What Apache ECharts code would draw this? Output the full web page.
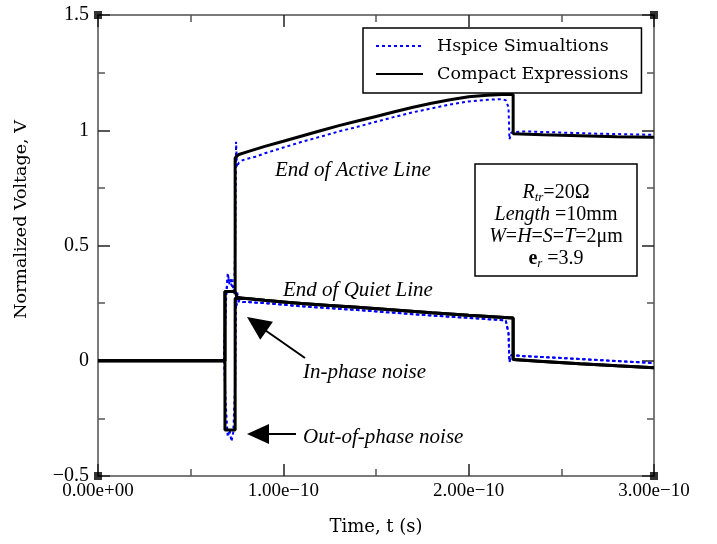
<!DOCTYPE html>
<html><head><meta charset="utf-8">
<script src="https://cdn.jsdelivr.net/npm/echarts@6/dist/echarts.min.js"></script>
<style>html,body{margin:0;padding:0;background:#fff}#c{width:717px;height:544px}</style>
</head><body><div id="c"></div>
<script>
// time in picoseconds (1e-12 s), voltage normalized
const xTickValues = [0, 100, 200, 300];
const xTickLabels = ['0.00e+00', '1.00e\u221210', '2.00e\u221210', '3.00e\u221210'];
const yTickValues = [-0.5, 0, 0.5, 1, 1.5];
const yTickLabels = ['\u22120.5', '0', '0.5', '1', '1.5'];

// Compact Expressions (black)
const compactActive = [[0,0],[68.5,0],[68.5,0.3],[74,0.3],[74,0.88],[76,0.895],[80,0.905],[90,0.93],[100,0.952],[110,0.975],[120,0.998],[130,1.02],[140,1.04],[150,1.06],[160,1.08],[170,1.1],[180,1.117],[190,1.132],[200,1.145],[210,1.152],[218,1.155],[224,1.155],[224,0.985],[240,0.98],[260,0.976],[280,0.972],[300,0.97]];
const compactQuietInPhase = [[0,0],[68.5,0],[68.5,0.3],[74,0.3],[75,0.275],[80,0.27],[90,0.262],[100,0.255],[110,0.248],[125,0.24],[140,0.232],[160,0.22],[180,0.208],[200,0.197],[215,0.19],[224,0.185],[224,0.005],[240,-0.003],[260,-0.013],[280,-0.022],[300,-0.03]];
const compactQuietOutPhase = [[0,0],[68.5,0],[68.5,-0.3],[74,-0.3],[74,0.27],[75,0.275],[80,0.27],[90,0.262],[100,0.255],[110,0.248],[125,0.24],[140,0.232],[160,0.22],[180,0.208],[200,0.197],[215,0.19],[224,0.185],[224,0.005],[240,-0.003],[260,-0.013],[280,-0.022],[300,-0.03]];

// Hspice Simulations (blue dotted)
const hspiceActive = [[0,0],[68,0],[69,0.28],[70,0.36],[72,0.33],[73.5,0.3],[74,0.5],[74.5,0.95],[75,0.84],[76,0.86],[78,0.87],[80,0.875],[85,0.885],[90,0.9],[100,0.925],[110,0.95],[120,0.972],[130,0.995],[140,1.015],[150,1.037],[160,1.058],[170,1.078],[180,1.095],[190,1.112],[200,1.125],[210,1.132],[218,1.135],[220,1.13],[221.5,1.1],[222,0.96],[223,0.99],[230,0.995],[250,0.99],[270,0.985],[300,0.98]];
const hspiceQuietInPhase = [[0,0],[68,0],[69,0.25],[70,0.38],[71,0.33],[72,0.36],[73,0.31],[74,0.28],[75,0.24],[76,0.26],[78,0.255],[80,0.255],[90,0.25],[100,0.243],[110,0.236],[125,0.228],[140,0.22],[160,0.208],[180,0.196],[200,0.186],[215,0.178],[220,0.175],[221.5,0.12],[222,-0.005],[223,0.025],[230,0.02],[250,0.012],[270,0.003],[300,-0.01]];
const hspiceQuietOutPhase = [[0,0],[68,0],[69,-0.2],[70,-0.33],[71,-0.3],[72,-0.35],[73,-0.31],[74,-0.1],[74.5,0.25],[75,0.3],[76,0.26],[78,0.255],[80,0.255],[90,0.25],[100,0.243],[110,0.236],[125,0.228],[140,0.22],[160,0.208],[180,0.196],[200,0.186],[215,0.178],[220,0.175],[221.5,0.12],[222,-0.005],[223,0.025],[230,0.02],[250,0.012],[270,0.003],[300,-0.01]];

const cornerPoints = [[0,-0.5],[0,1.5],[300,-0.5],[300,1.5]];

const HSPICE = 'Hspice Simualtions';
const COMPACT = 'Compact Expressions';

const chart = echarts.init(document.getElementById('c'));

function xLabel(v){ const i = xTickValues.indexOf(v); return i >= 0 ? xTickLabels[i] : ''; }
function yLabel(v){ const i = yTickValues.findIndex(t => Math.abs(t - v) < 1e-9); return i >= 0 ? yTickLabels[i] : ''; }

const axisLineStyle = { color: '#7a7a7a', width: 2 };
const tickStyle = { show: true, inside: true, length: 12, lineStyle: { color: '#222', width: 1.5 } };
const minorStyle = { show: true, splitNumber: 2, length: 7, lineStyle: { color: '#555', width: 1.5 } };

function blue(data){ return { name: HSPICE, type: 'line', data, symbol: 'none', showSymbol: false, z: 2,
  lineStyle: { color: '#0000ff', width: 2, type: [3, 3] }, itemStyle: { color: '#0000ff' }, animation: false }; }
function black(data){ return { name: COMPACT, type: 'line', data, symbol: 'none', showSymbol: false, z: 3,
  lineStyle: { color: '#000', width: 3 }, itemStyle: { color: '#000' }, animation: false }; }

// arrow helper (pixel annotation)
function arrowHead(tip, toward, len, half){
  const dx = toward[0]-tip[0], dy = toward[1]-tip[1];
  const L = Math.hypot(dx, dy), ux = dx/L, uy = dy/L;
  const bx = tip[0]+ux*len, by = tip[1]+uy*len;
  return [tip, [bx - uy*half, by + ux*half], [bx + uy*half, by - ux*half]];
}

const annoFont = { fontFamily: 'Liberation Serif', fontStyle: 'italic', fontSize: 21, fill: '#000' };

chart.setOption({
  animation: false,
  backgroundColor: '#fff',
  grid: { left: 98, right: 63, top: 15, bottom: 68, containLabel: false },
  legend: {
    data: [HSPICE, COMPACT], orient: 'vertical', left: 363, top: 28,
    itemWidth: 47, itemHeight: 14, itemGap: 10, selectedMode: false,
    itemStyle: { opacity: 0 },
    backgroundColor: '#fff', borderColor: '#000', borderWidth: 1.5, borderRadius: 0,
    padding: [9, 13, 10, 12],
    textStyle: { fontFamily: 'DejaVu Serif', fontSize: 17.5, color: '#000', padding: [0, 0, 0, 9] }
  },
  xAxis: [{
    type: 'value', min: 0, max: 300, interval: 100, position: 'bottom',
    name: 'Time, t (s)', nameLocation: 'middle', nameGap: 42,
    nameTextStyle: { fontFamily: 'DejaVu Serif', fontSize: 18, color: '#000' },
    axisLine: { show: true, onZero: false, lineStyle: axisLineStyle },
    axisTick: tickStyle, minorTick: minorStyle, splitLine: { show: false },
    axisLabel: { formatter: xLabel, fontFamily: 'Liberation Serif', fontSize: 19, color: '#000', margin: 6, showMinLabel: true, showMaxLabel: true }
  }, {
    type: 'value', min: 0, max: 300, interval: 100, position: 'top',
    axisLine: { show: true, onZero: false, lineStyle: axisLineStyle },
    axisTick: tickStyle, minorTick: minorStyle, splitLine: { show: false }, axisLabel: { show: false }
  }],
  yAxis: [{
    type: 'value', min: -0.5, max: 1.5, interval: 0.5, position: 'left',
    name: 'Normalized Voltage, V', nameLocation: 'middle', nameGap: 68,
    nameTextStyle: { fontFamily: 'DejaVu Serif', fontSize: 17.5, color: '#000', padding: [0, 0, 0, 52] },
    axisLine: { show: true, onZero: false, lineStyle: axisLineStyle },
    axisTick: tickStyle, minorTick: minorStyle, splitLine: { show: false },
    axisLabel: { formatter: yLabel, fontFamily: 'Liberation Serif', fontSize: 20, color: '#000', margin: 9 }
  }, {
    type: 'value', min: -0.5, max: 1.5, interval: 0.5, position: 'right',
    axisLine: { show: true, onZero: false, lineStyle: axisLineStyle },
    axisTick: tickStyle, minorTick: minorStyle, splitLine: { show: false }, axisLabel: { show: false }
  }],
  series: [
    blue(hspiceActive), blue(hspiceQuietInPhase), blue(hspiceQuietOutPhase),
    black(compactActive), black(compactQuietInPhase), black(compactQuietOutPhase),
    { name: 'corners', type: 'scatter', data: cornerPoints, symbol: 'rect', symbolSize: 8,
      itemStyle: { color: '#000' }, clip: false, z: 5, silent: true }
  ],
  graphic: [
    { type: 'text', left: 275, top: 160, style: Object.assign({ text: 'End of Active Line' }, annoFont) },
    { type: 'text', left: 283, top: 280, style: Object.assign({ text: 'End of Quiet Line' }, annoFont) },
    { type: 'text', left: 303, top: 362, style: Object.assign({ text: 'In-phase noise' }, annoFont) },
    { type: 'text', left: 303, top: 427, style: Object.assign({ text: 'Out-of-phase noise' }, annoFont) },
    { type: 'polyline', shape: { points: [[262, 328], [305, 358]] }, style: { stroke: '#000', lineWidth: 2 } },
    { type: 'polygon', shape: { points: arrowHead([247, 317], [305, 358], 24, 11) }, style: { fill: '#000' } },
    { type: 'polyline', shape: { points: [[262, 434], [296, 434]] }, style: { stroke: '#000', lineWidth: 2 } },
    { type: 'polygon', shape: { points: arrowHead([247, 434], [296, 434], 22, 10) }, style: { fill: '#000' } },
    { type: 'rect', shape: { x: 475, y: 164, width: 162, height: 112 }, style: { fill: '#fff', stroke: '#000', lineWidth: 1.5 }, z: 10 },
    { type: 'text', x: 556, y: 182, z: 11, style: {
      text: '{i|R}{s|tr}{n|=20\u03a9}\n{i|Length} {n|=10mm}\n{i|W}{n|=}{i|H}{n|=}{i|S}{n|=}{i|T}{n|=2\u03bcm}\n{b|e}{s|r}{n| =3.9}',
      align: 'center', verticalAlign: 'top', fill: '#000', fontFamily: 'Liberation Serif', fontSize: 20, lineHeight: 22,
      rich: {
        i: { fontFamily: 'Liberation Serif', fontStyle: 'italic', fontSize: 20, lineHeight: 22 },
        n: { fontFamily: 'Liberation Serif', fontSize: 20, lineHeight: 22 },
        b: { fontFamily: 'Liberation Serif', fontWeight: 'bold', fontSize: 20, lineHeight: 22 },
        s: { fontFamily: 'Liberation Serif', fontStyle: 'italic', fontSize: 13, lineHeight: 22, verticalAlign: 'bottom', padding: [8, 0, 0, 0] }
      } } }
  ]
});
</script></body></html>
